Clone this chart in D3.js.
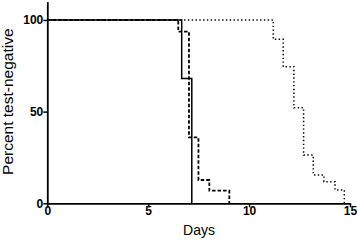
<!DOCTYPE html>
<html>
<head>
<meta charset="utf-8">
<script src="https://cdn.jsdelivr.net/npm/d3@7"></script>
<style>
	body { margin: 0; background: #fff; }
	text { font-family: Arial, "Liberation Sans", sans-serif; }
</style>
</head>
<body>
<svg width="358" height="241"></svg>
<script>
// step curves (days, percent)
let solidDays = [0, 6.66, 7.16];
let solidPct = [100, 68, 0];
let dashedDays = [0, 6.49, 7.02, 7.49, 8.03, 9.02];
let dashedPct = [100, 93.6, 35.9, 12.7, 6.9, 0];
let dottedDays = [0, 11.2, 11.69, 12.22, 12.7, 13.18, 13.71, 14.26, 14.72];
let dottedPct = [100, 89.4, 74.5, 52.1, 26.3, 15.4, 11.8, 7.3, 0];
let xTicks = [0, 5, 10, 15];
let yTicks = [0, 50, 100];

window.onload = function() {
	drawChart();
}

function drawChart() {
	let svg = d3.select('svg');
	let x = d3.scaleLinear().domain([0, 15]).range([47.3, 350]);
	let y = d3.scaleLinear().domain([0, 110]).range([203.3, 1.6]);

	let line = d3.line()
		.curve(d3.curveStepAfter)
		.x(d => x(d[0]))
		.y(d => y(d[1]));

	let series = [
		{ days: dottedDays, pct: dottedPct, dash: '1.4,2.4', w: 1.5 },
		{ days: dashedDays, pct: dashedPct, dash: '3.5,2', w: 1.8 },
		{ days: solidDays, pct: solidPct, dash: null, w: 1.5 }
	];

	series.forEach(s => {
		svg.append('path')
			.attr('d', line(d3.zip(s.days, s.pct)))
			.attr('fill', 'none')
			.attr('stroke', '#000')
			.attr('stroke-width', s.w)
			.attr('stroke-dasharray', s.dash);
	});

	let xAxis = svg.append('g')
		.attr('transform', 'translate(0,203.3)')
		.call(d3.axisBottom(x).tickValues(xTicks).tickSize(4).tickSizeOuter(0).tickFormat(d3.format('d')));
	let yAxis = svg.append('g')
		.attr('transform', 'translate(47.3,0)')
		.call(d3.axisLeft(y).tickValues(yTicks).tickSize(4).tickSizeOuter(0).tickFormat(d3.format('d')));

	[xAxis, yAxis].forEach(a => {
		a.select('.domain').attr('stroke-width', 1.8);
		a.selectAll('.tick line').attr('stroke-width', 1.5);
		a.selectAll('.tick text')
			.style('font-family', 'Arial, "Liberation Sans", sans-serif')
			.style('font-size', '12px')
			.style('font-weight', 'bold')
			.attr('fill', '#000');
	});
	xAxis.selectAll('.tick text').attr('dy', '0.6em').attr('y', 5);
	yAxis.selectAll('.tick text').attr('x', -4);

	svg.append('text')
		.attr('x', 199)
		.attr('y', 235)
		.attr('text-anchor', 'middle')
		.style('font-size', '14px')
		.text('Days');

	svg.append('text')
		.attr('transform', 'translate(12.5,101.7) rotate(-90)')
		.attr('text-anchor', 'middle')
		.style('font-size', '15.5px')
		.text('Percent test-negative');
}
</script>
</body>
</html>
